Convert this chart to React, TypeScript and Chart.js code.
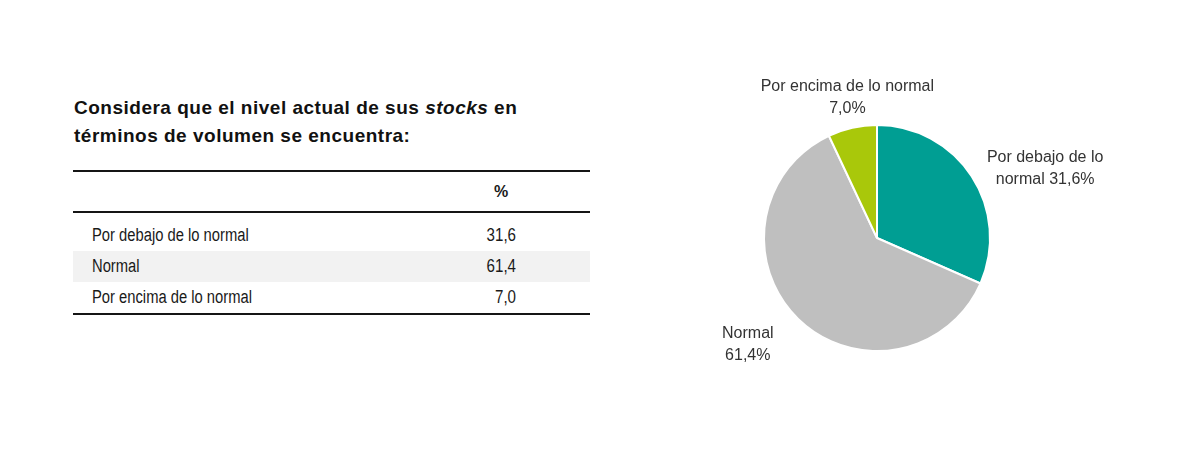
import React, { useEffect, useRef } from "react";
import { Chart, registerables } from "chart.js";

Chart.register(...registerables);

const categories = ["Por debajo de lo normal", "Normal", "Por encima de lo normal"];
const values = [31.6, 61.4, 7.0];
const sliceColors = ["#009e93", "#bfbfbf", "#a9c80a"];
const titleBefore = "Considera que el nivel actual de sus ";
const titleItalic = "stocks";
const titleAfter = " en";
const titleLine2 = "términos de volumen se encuentra:";
const columnHeader = "%";

const fmt = (v: number) => v.toFixed(1).replace(".", ",");

const pieLabelPlugin = {
  id: "pieLabels",
  afterDatasetsDraw(chart: any, _args: any, opts: any) {
    const ctx = chart.ctx;
    const meta = chart.getDatasetMeta(0);
    ctx.save();
    ctx.font = opts.font;
    ctx.fillStyle = opts.color;
    ctx.textAlign = "center";
    ctx.textBaseline = "middle";
    meta.data.forEach((arc: any, i: number) => {
      const p = arc.getProps(["x", "y", "startAngle", "endAngle", "outerRadius"], true);
      const mid = (p.startAngle + p.endAngle) / 2;
      const place = opts.placement[i];
      const d = p.outerRadius + place.gap;
      const cx = p.x + Math.cos(mid) * d + place.dx;
      const cy = p.y + Math.sin(mid) * d + place.dy;
      const text = `${chart.data.labels[i]} ${fmt(chart.data.datasets[0].data[i])}%`;
      const words = text.split(" ");
      const lines: string[] = [];
      let cur = "";
      words.forEach((w) => {
        const test = cur ? cur + " " + w : w;
        if (cur && ctx.measureText(test).width > place.wrap) {
          lines.push(cur);
          cur = w;
        } else cur = test;
      });
      if (cur) lines.push(cur);
      const lh = opts.lineHeight;
      const top = cy - ((lines.length - 1) * lh) / 2;
      lines.forEach((l, k) => ctx.fillText(l, cx, top + k * lh));
    });
    ctx.restore();
  },
};

function PieChart() {
  const ref = useRef<HTMLCanvasElement | null>(null);
  useEffect(() => {
    if (!ref.current) return;
    const chart = new Chart(ref.current, {
      type: "pie",
      data: {
        labels: categories,
        datasets: [
          {
            data: values,
            backgroundColor: sliceColors,
            borderColor: "#ffffff",
            borderWidth: 2,
          },
        ],
      },
      options: {
        responsive: false,
        animation: false,
        layout: { padding: { left: 83, right: 149, top: 84, bottom: 78 } },
        plugins: {
          legend: { display: false },
          tooltip: { enabled: false },
          pieLabels: {
            font: "16px 'Liberation Sans', Arial, sans-serif",
            color: "#333333",
            lineHeight: 22,
            placement: [
              { gap: 40, dx: 40, dy: 14, wrap: 130 },
              { gap: 52, dx: -14, dy: -12, wrap: 60 },
              { gap: 32, dx: 2, dy: 1, wrap: 185 },
            ],
          },
        } as any,
      },
      plugins: [pieLabelPlugin],
    });
    return () => chart.destroy();
  }, []);
  return <canvas ref={ref} width={460} height={390} style={{ width: 460, height: 390, display: "block" }} />;
}

export default function App() {
  const cellFont = "18px 'Liberation Sans', Arial, sans-serif";
  const rule = { height: 2, background: "#151515" };
  return (
    <div style={{ position: "absolute", left: 0, top: 0, width: 1200, height: 454, background: "#fff", overflow: "hidden" }}>
      <div
        style={{
          position: "absolute",
          left: 74,
          top: 94,
          font: "bold 19px 'Liberation Sans', Arial, sans-serif",
          lineHeight: "28px",
          letterSpacing: "0.5px",
          color: "#111",
          whiteSpace: "nowrap",
        }}
      >
        <div>
          {titleBefore}
          <i>{titleItalic}</i>
          {titleAfter}
        </div>
        <div>{titleLine2}</div>
      </div>
      <div style={{ position: "absolute", left: 73, top: 170, width: 517, color: "#1a1a1a" }}>
        <div style={rule} />
        <div style={{ position: "relative", height: 39 }}>
          <div
            style={{
              position: "absolute",
              left: 408,
              width: 40,
              textAlign: "center",
              top: 0,
              font: "bold 16px 'Liberation Sans', Arial, sans-serif",
              lineHeight: "40px",
            }}
          >
            {columnHeader}
          </div>
        </div>
        <div style={rule} />
        <div style={{ height: 7 }} />
        {categories.map((c, i) => (
          <div
            key={c}
            style={{
              position: "relative",
              height: 31,
              background: i === 1 ? "#f2f2f2" : "transparent",
              font: cellFont,
              lineHeight: "31px",
              whiteSpace: "nowrap",
            }}
          >
            <div style={{ position: "absolute", left: 19, top: 0, transform: "scaleX(0.82)", transformOrigin: "left center" }}>{c}</div>
            <div
              style={{
                position: "absolute",
                left: 343,
                width: 100,
                textAlign: "right",
                top: 0,
                transform: "scaleX(0.84)",
                transformOrigin: "right center",
              }}
            >
              {fmt(values[i])}
            </div>
          </div>
        ))}
        <div style={rule} />
      </div>
      <div style={{ position: "absolute", left: 680, top: 40 }}>
        <PieChart />
      </div>
    </div>
  );
}
